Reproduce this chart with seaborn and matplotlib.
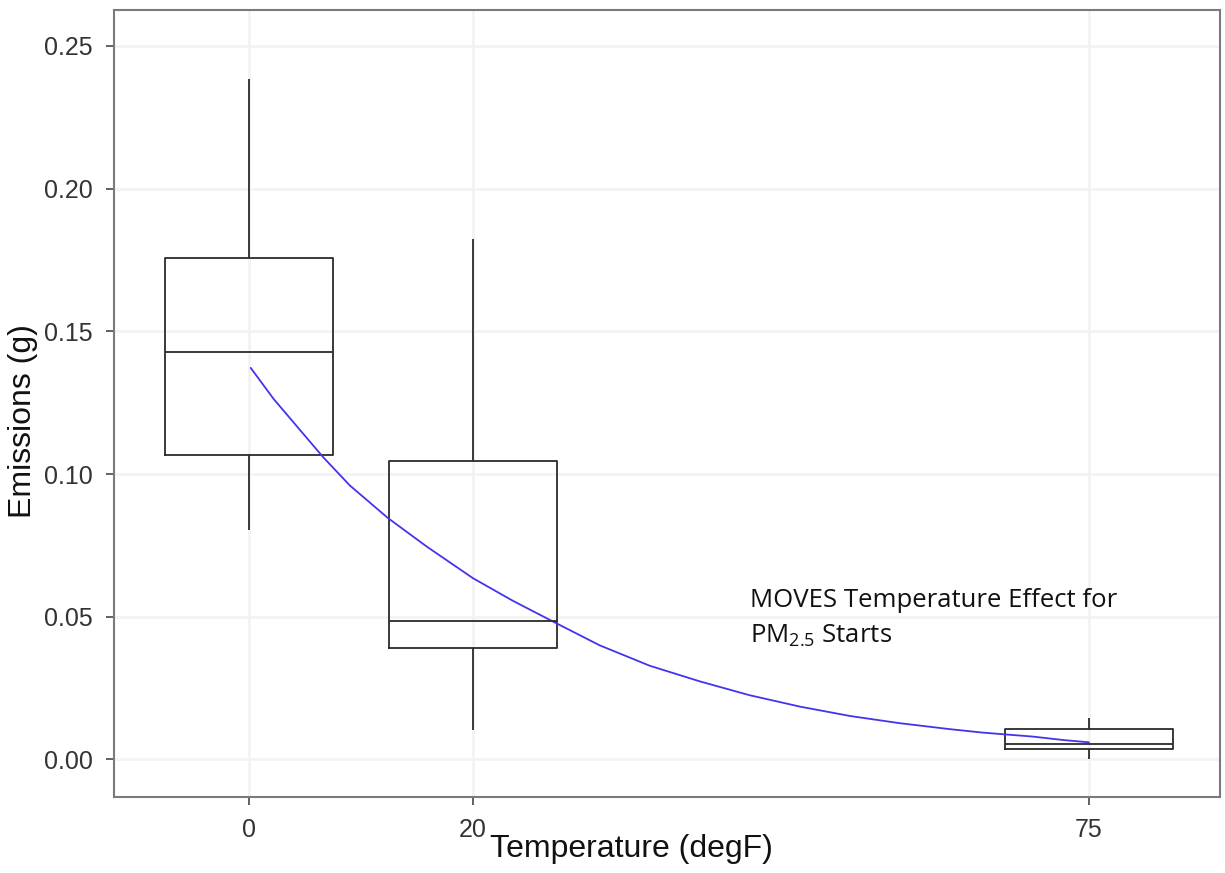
import numpy as np
import pandas as pd
import matplotlib
matplotlib.use("Agg")
import matplotlib.pyplot as plt
import seaborn as sns

# box statistics: whisker low, Q1, median, Q3, whisker high
temps = [0, 20, 75]
box_low = [0.0805, 0.0103, 0.0002]
box_q1 = [0.1065, 0.0391, 0.0037]
box_med = [0.1429, 0.0486, 0.0054]
box_q3 = [0.1756, 0.1045, 0.0107]
box_high = [0.2385, 0.1825, 0.0146]

# MOVES temperature-effect curve
curve_x = [0.15, 2.2, 4.3, 6.6, 9.0, 12.4, 15.9, 20.0, 23.6, 27.3, 31.3, 35.8,
           40.3, 44.7, 49.2, 53.7, 58.1, 62.6, 65.5, 70.0, 72.7, 75.0]
curve_y = [0.1372, 0.1263, 0.1166, 0.1060, 0.0960, 0.0846, 0.0745, 0.0635,
           0.0555, 0.0480, 0.0400, 0.0328, 0.0273, 0.0225, 0.0185, 0.0152,
           0.0127, 0.0106, 0.0094, 0.0080, 0.0068, 0.0060]

yticks = [0.00, 0.05, 0.10, 0.15, 0.20, 0.25]

# five values per group -> quartiles come out exactly as read
rows = []
for t, lo, q1, md, q3, hi in zip(temps, box_low, box_q1, box_med, box_q3, box_high):
    for v in (lo, q1, md, q3, hi):
        rows.append({"temp": t, "emis": v})
df = pd.DataFrame(rows)

sns.set_style("white")
plt.rcParams["font.family"] = ["Liberation Sans", "DejaVu Sans"]
plt.rcParams["mathtext.fontset"] = "custom"
plt.rcParams["mathtext.rm"] = "Open Sans"

fig = plt.figure(figsize=(12.25, 8.73), dpi=100)
ax = fig.add_axes([0.0931, 0.0871, 0.9028, 0.9015])

ax.grid(True, color="#f3f3f3", linewidth=2)
ax.set_axisbelow(True)

line_kw = dict(color="#2b2b2b", linewidth=1.3)
sns.boxplot(data=df, x="temp", y="emis", native_scale=True, width=0.75,
            whis=np.inf, showcaps=False, fill=False, ax=ax,
            boxprops=line_kw, whiskerprops=line_kw, medianprops=line_kw,
            linecolor="#2b2b2b", linewidth=1.3)

sns.lineplot(x=curve_x, y=curve_y, color="#4433ee", linewidth=1.3, ax=ax,
             sort=False, estimator=None)

ax.set_xlim(-12.05, 86.7)
ax.set_ylim(-0.01315, 0.2626)
ax.set_xticks(temps)
ax.set_xticklabels([str(t) for t in temps])
ax.set_yticks(yticks)
ax.set_yticklabels([f"{v:.2f}" for v in yticks])

for s in ax.spines.values():
    s.set_color("#7a7a7a")
    s.set_linewidth(1.5)
ax.tick_params(axis="both", direction="out", length=5.5, width=1.3,
               color="#555555", labelcolor="#333333", labelsize=18, pad=10,
               bottom=True, left=True)

ax.set_xlabel("Temperature (degF)", fontsize=23, color="#111111")
ax.set_ylabel("Emissions (g)", fontsize=23, color="#111111")
ax.xaxis.set_label_coords(0.4675, -0.047)
ax.yaxis.set_label_coords(-0.069, 0.478)

ax.text(0.575, 0.2418, "MOVES Temperature Effect for", transform=ax.transAxes,
        fontsize=18.5, family=["Open Sans", "DejaVu Sans"], color="#111111",
        ha="left", va="baseline")
ax.text(0.575, 0.1957, r"PM$_{\mathrm{2.5}}$ Starts", transform=ax.transAxes,
        fontsize=18.5, family=["Open Sans", "DejaVu Sans"], color="#111111",
        ha="left", va="baseline")

fig.savefig("out.png", dpi=100)
